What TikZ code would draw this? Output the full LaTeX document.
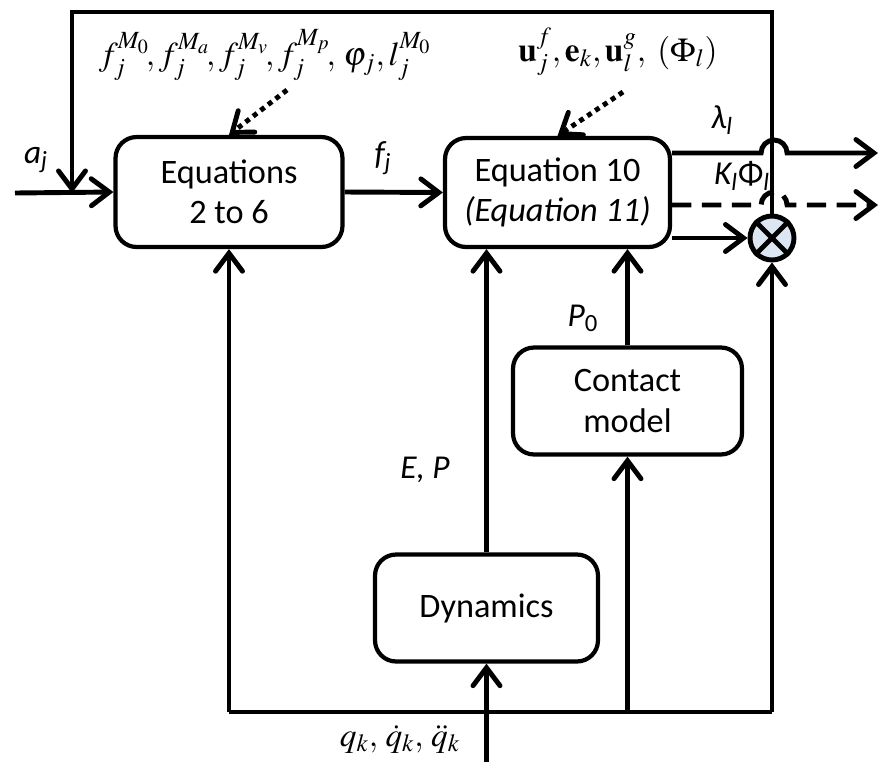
\documentclass[tikz,border=0pt]{standalone}
\usepackage{mathptmx}
\usepackage[no-math]{fontspec}
\setmainfont{Carlito}
\usetikzlibrary{arrows.meta}
\definecolor{mulfill}{RGB}{220,230,242}

\begin{document}
\begin{tikzpicture}[x=0.02cm, y=-0.02cm, line width=2.8pt,
    >={Straight Barb[length=3.6mm, width=5.4mm, line cap=round]},
    blockbox/.style={draw, line width=2.4pt, rounded corners=12pt, align=center,
        inner sep=0pt, font=\fontsize{19.5}{23}\selectfont},
    lbl/.style={font=\fontsize{19}{22}\selectfont\itshape},
    mlbl/.style={font=\fontsize{19}{22}\selectfont},
    dotline/.style={->, dash pattern=on 2.8pt off 2.6pt},
    dashline/.style={->, dash pattern=on 11pt off 6pt}]
    \def\busy{712}
    \def\topy{12}

    \useasboundingbox (0,0) rectangle (883,762);

    % blocks
    \node[blockbox, minimum width=4.54cm, minimum height=2.2cm] (eqs) at (229,192) {Equations\\2 to 6};
    \node[blockbox, minimum width=4.5cm, minimum height=2.18cm] (eqten) at (557.5,192.5) {Equation 10\\\textit{(Equation 11)}};
    \node[blockbox, minimum width=4.58cm, minimum height=2.14cm] (contact) at (627.5,401) {Contact\\model};
    \node[blockbox, minimum width=4.46cm, minimum height=2.14cm] (dyn) at (486.5,608) {Dynamics};
    \node[circle, draw, fill=mulfill, minimum size=0.88cm, inner sep=0pt] (mul) at (772,238) {};
    \draw (mul.north west) -- (mul.south east) (mul.north east) -- (mul.south west);

    \coordinate (ain) at (15,193);
    \coordinate (fbl) at (72,\topy);
    \coordinate (fbr) at (772,\topy);
    \coordinate (busr) at (772,\busy);
    \coordinate (qin) at (486.5,762);
    \coordinate (lamend) at (878,153);
    \coordinate (kapend) at (878,205);
    \coordinate (srcone) at (287,90);
    \coordinate (srctwo) at (623,92);

    % feedback loop and inputs
    \draw[->] (ain) -- (eqs.west);
    \draw[->] (mul.north) -- (fbr) -- (fbl) -- (fbl |- ain);
    \draw[->] (eqs.east) -- (eqten.west);
    \draw[dotline] (srcone) -- (eqs.north);
    \draw[dotline] (srctwo) -- (eqten.north);

    % outputs, with hops over the feedback line
    \draw[->] (eqten.east |- lamend) -- ++(89,0) arc (180:360:13) -- (lamend);
    \draw[dashline] (eqten.east |- kapend) -- ++(89,0) arc (180:360:13) -- (kapend);
    \draw[->] (eqten.east |- mul) -- (mul);

    % bus from the bottom
    \draw (eqs.south |- busr) -- (busr);
    \draw[->] (eqs.south |- busr) -- (eqs.south);
    \draw[->] (busr) -- (mul.south);
    \draw[->] (contact.south |- busr) -- (contact.south);
    \draw[->] (contact.north) -- (contact.north |- eqten.south);
    \draw[->] (dyn.north) -- (dyn.north |- eqten.south);
    \draw[->] (qin) -- (dyn.south);

    % labels
    \node[lbl] (alab) at (36,160) {a\textsubscript{j}};
    \node[lbl] (flab) at (383,158) {f\textsubscript{j}};
    \node[lbl] (lamlab) at (722,120) {λ\textsubscript{l}};
    \node[lbl] (kaplab) at (742,176) {K\textsubscript{l}{\upshape Φ}\textsubscript{l}};
    \node[lbl] (plab) at (583,318) {P\textsubscript{\upshape 0}};
    \node[lbl] (eplab) at (425,470) {E, P};
    \node[mlbl] (qlab) at (400,739) {$q_k,\,\dot q_k,\,\ddot q_k$};
    \node[mlbl] (parlab) at (265,55) {$f_j^{M_0}\!, f_j^{M_a}\!, f_j^{M_v}\!, f_j^{M_p}\!,\, \varphi_j, l_j^{M_0}$};
    \node[mlbl] (veclab) at (618,52) {$\mathbf{u}_j^f, \mathbf{e}_k, \mathbf{u}_l^g,\ (\Phi_l)$};
\end{tikzpicture}
\end{document}
